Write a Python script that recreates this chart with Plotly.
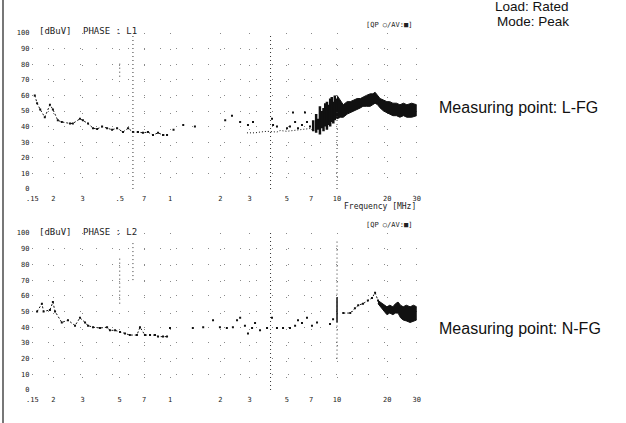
import plotly.graph_objects as go

# ---- frequency axis ticks (MHz) and level ticks (dBuV) ----
freq_ticks = [0.15, 0.2, 0.3, 0.5, 0.7, 1, 2, 3, 5, 7, 10, 20, 30]
freq_labels_l1 = [".15", "2", "3", ".5", "7", "1", "2", "3", "5", "7", "10", "20", "30"]
freq_labels_l2 = [".15", "2", "3", "5", "7", "1", "2", "3", "5", "7", "10", "20", "30"]
level_ticks = [0, 10, 20, 30, 40, 50, 60, 70, 80, 90, 100]

# ---- PHASE L1 (L-FG) ----
l1_low_f = [0.155, 0.16, 0.167, 0.178, 0.191, 0.199, 0.213, 0.225, 0.252, 0.262, 0.289, 0.301,
            0.323, 0.346, 0.366, 0.392, 0.42, 0.45, 0.482, 0.523, 0.561, 0.6, 0.643, 0.689,
            0.738, 0.791, 0.848, 0.908, 0.96]
l1_low_db = [60, 55, 51, 46, 54, 51, 44, 43, 42, 42, 45, 44, 42, 39, 38.5, 40, 39, 38, 39, 36.5,
             39, 36.5, 36.5, 36, 36.5, 34.6, 36, 34.6, 34.6]
l1_mid_f = [1.05, 1.2, 1.41, 2.14, 2.35, 2.63, 2.93, 3.14, 4.08, 4.14, 4.37, 5.02, 5.23, 5.45,
            5.61, 5.84, 6.17, 6.43, 6.61, 6.89, 7.18]
l1_mid_db = [38, 41, 40, 44, 47, 43, 41, 43, 45, 41, 40, 39, 40, 49, 43, 39, 41, 49, 43, 40, 39]
l1_floor_f = [2.89, 3.23, 3.46, 3.81, 4.37, 4.56, 5.0, 5.5, 6.0, 6.6, 7.2]
l1_floor_db = [36, 36, 36.5, 37, 36.5, 37.5, 37, 37.5, 38, 38.5, 39]
# 7-10 MHz: peak-hold spread per sweep step (low, high)
l1_spread_f = [7.2, 7.5, 7.7, 7.9, 8.1, 8.3, 8.5, 8.7, 8.9, 9.1, 9.3, 9.5, 9.7, 9.9]
l1_spread_lo = [37, 36, 38, 35, 39, 37, 40, 38, 41, 40, 43, 42, 44, 45]
l1_spread_hi = [44, 48, 45, 53, 50, 52, 55, 56, 54, 58, 59, 56, 60, 58]
l1_band_f = [10.0, 10.5, 10.9, 11.5, 12.0, 12.6, 13.2, 13.8, 14.3, 15.0, 15.8, 16.4, 16.9,
             17.5, 18.1, 19.0, 19.9, 20.7, 21.6, 22.7, 23.8, 25.0, 26.2, 28.0, 30]
l1_band_hi = [60, 57, 54, 56, 56, 57, 58, 58, 59, 60, 61, 61, 62, 60, 58, 57, 56, 56, 55, 55,
              54, 55, 54, 55, 54]
l1_band_lo = [45, 46, 46, 48, 49, 50, 51, 52, 53, 53, 53, 54, 55, 54, 52, 50, 49, 48, 47, 47,
              46, 47, 46, 46, 47]

# ---- PHASE L2 (N-FG) ----
l2_low_f = [0.16, 0.171, 0.175, 0.191, 0.199, 0.205, 0.225, 0.245, 0.27, 0.289, 0.31, 0.323,
            0.346, 0.381, 0.42, 0.437, 0.469, 0.502, 0.538, 0.575, 0.634, 0.661, 0.708, 0.759,
            0.813, 0.848, 0.908, 0.96]
l2_low_db = [50, 55, 50, 51, 56, 50, 43, 44.5, 41, 46, 43, 41, 40, 39.5, 40, 38, 38, 37, 36, 35,
             35, 40, 35, 35, 35, 34, 34, 34]
l2_mid_f = [1.0, 1.37, 1.58, 1.81, 1.99, 2.19, 2.38, 2.52, 2.63, 2.81, 2.93, 3.10, 3.23, 3.46,
            3.81, 4.08, 4.37, 4.75, 5.23, 5.61, 5.84, 6.17, 6.61, 7.08, 7.59, 9.08, 9.47]
l2_mid_db = [39.5, 39.5, 40, 44.5, 40, 39.5, 40, 44.5, 46, 41, 36, 39.5, 42.7, 38, 39.5, 46,
             39.5, 39.5, 39.5, 41, 44.5, 42.7, 46, 41, 43, 42, 45]
l2_rise_f = [10.9, 12.0, 12.8, 13.4, 14.3, 15.3, 16.2, 16.9, 17.6]
l2_rise_db = [49, 49, 52, 54, 55, 57, 58.6, 62, 57]
l2_spike_f = [10, 10]
l2_spike_db = [43, 59]
l2_band_f = [17.6, 18.1, 18.6, 19.2, 19.9, 20.7, 21.6, 22.4, 23.2, 24.0, 24.9, 26.0, 27.4,
             28.7, 30]
l2_band_hi = [57, 56, 55, 54, 53, 54, 53, 55, 56, 54, 53, 54, 53, 54, 53]
l2_band_lo = [55, 53, 52, 50, 48, 49, 48, 49, 49, 46, 44.6, 44, 43, 44, 44.6]

# dotted marker lines on the plots: (MHz, from dBuV, to dBuV)
l1_marker_lines = [(0.6, 0, 100), (4.0, 0, 100), (0.5, 72, 82), (10, 0, 50)]
l2_marker_lines = [(0.5, 55, 85), (0.6, 70, 95), (4.0, 0, 100), (10, 20, 95)]

W, H = 626, 423
INK = "#111111"
MONO = "DejaVu Sans Mono, monospace"
SANS = "Liberation Sans, Arial, sans-serif"

fig = go.Figure()


def add_panel(xa, ya, low_f, low_db, mid_f, mid_db, band_f, band_hi, band_lo):
    fig.add_trace(go.Scatter(x=low_f, y=low_db, xaxis=xa, yaxis=ya, mode="lines+markers",
                             line=dict(color=INK, width=1, dash="2px,2px"),
                             marker=dict(color=INK, size=2, symbol="square"),
                             showlegend=False, hoverinfo="skip"))
    fig.add_trace(go.Scatter(x=mid_f, y=mid_db, xaxis=xa, yaxis=ya, mode="markers",
                             marker=dict(color=INK, size=2, symbol="square"),
                             showlegend=False, hoverinfo="skip"))
    fig.add_trace(go.Scatter(x=band_f + band_f[::-1], y=band_hi + band_lo[::-1],
                             xaxis=xa, yaxis=ya, mode="lines", fill="toself",
                             fillcolor=INK, line=dict(color=INK, width=1),
                             showlegend=False, hoverinfo="skip"))


def add_spread(xa, ya, fs, lo, hi, width):
    xs, ys = [], []
    for f, a, b in zip(fs, lo, hi):
        xs += [f, f, None]
        ys += [a, b, None]
    fig.add_trace(go.Scatter(x=xs, y=ys, xaxis=xa, yaxis=ya, mode="lines",
                             line=dict(color=INK, width=width),
                             showlegend=False, hoverinfo="skip"))


add_panel("x", "y", l1_low_f, l1_low_db, l1_mid_f, l1_mid_db, l1_band_f, l1_band_hi, l1_band_lo)
add_spread("x", "y", l1_spread_f, l1_spread_lo, l1_spread_hi, 2.5)
fig.add_trace(go.Scatter(x=l1_floor_f, y=l1_floor_db, xaxis="x", yaxis="y", mode="lines",
                         line=dict(color=INK, width=1, dash="1px,2px"),
                         showlegend=False, hoverinfo="skip"))

add_panel("x2", "y2", l2_low_f, l2_low_db, l2_mid_f, l2_mid_db, l2_band_f, l2_band_hi, l2_band_lo)
fig.add_trace(go.Scatter(x=l2_rise_f, y=l2_rise_db, xaxis="x2", yaxis="y2", mode="lines+markers",
                         line=dict(color=INK, width=1, dash="2px,2px"),
                         marker=dict(color=INK, size=2, symbol="square"),
                         showlegend=False, hoverinfo="skip"))
add_spread("x2", "y2", l2_spike_f[:1], l2_spike_db[:1], l2_spike_db[1:], 1.5)

# pixel geometry of the two plotting areas
x_dom = [32.4 / W, 416.7 / W]
y1_dom = [1 - 189 / H, 1 - 33 / H]
y2_dom = [1 - 390 / H, 1 - 233 / H]

tick_font = dict(family=MONO, size=7, color="#222222")
grid = dict(showgrid=True, gridcolor="#8a8a8a", gridwidth=1, griddash="1px,15px",
            zeroline=False, showline=False, ticks="", automargin=False, fixedrange=True)

fig.update_layout(
    width=W, height=H,
    margin=dict(l=0, r=0, t=0, b=0),
    paper_bgcolor="white", plot_bgcolor="white",
    xaxis=dict(type="log", range=[-0.8239, 1.4771], domain=x_dom, anchor="y",
               tickvals=freq_ticks, ticktext=freq_labels_l1, tickfont=tick_font,
               ticklabelstandoff=4, **grid),
    yaxis=dict(range=[0, 100], domain=y1_dom, anchor="x",
               tickvals=level_ticks, tickfont=tick_font, ticklabelstandoff=2, **grid),
    xaxis2=dict(type="log", range=[-0.8239, 1.4771], domain=x_dom, anchor="y2",
                tickvals=freq_ticks, ticktext=freq_labels_l2, tickfont=tick_font,
                ticklabelstandoff=4, **grid),
    yaxis2=dict(range=[0, 100], domain=y2_dom, anchor="x2",
                tickvals=level_ticks, tickfont=tick_font, ticklabelstandoff=2, **grid),
)

shapes = [dict(type="line", xref="paper", yref="paper", x0=3 / W, x1=3 / W, y0=0, y1=1,
               line=dict(color="#777777", width=2))]
for xr, yr, lines in (("x", "y", l1_marker_lines), ("x2", "y2", l2_marker_lines)):
    for f, d0, d1 in lines:
        shapes.append(dict(type="line", xref=xr, yref=yr, x0=f, x1=f, y0=d0, y1=d1,
                           line=dict(color="#333333", width=1, dash="1px,3px")))
fig.update_layout(shapes=shapes)


def label(text, px, py, size, family=MONO, anchor="left", color="#222222"):
    fig.add_annotation(text=text, xref="paper", yref="paper", x=px / W, y=1 - py / H,
                       xanchor=anchor, yanchor="middle", showarrow=False,
                       font=dict(family=family, size=size, color=color))


label("[dBuV]", 37, 31, 9)
label("PHASE : L1", 81, 31, 9)
label("[QP ○/AV:■]", 364, 25, 7)
label("Frequency [MHz]", 342, 207, 8)
label("[dBuV]", 37, 232, 9)
label("PHASE : L2", 81, 232, 9)
label("[QP ○/AV:■]", 364, 225, 7)

label("Load: Rated", 571, 6, 13.5, SANS, "right", "#111111")
label("Mode: Peak", 571, 22, 13.5, SANS, "right", "#111111")
label("Measuring point: L-FG", 437, 107, 16, SANS, "left", "#111111")
label("Measuring point: N-FG", 437, 328, 16, SANS, "left", "#111111")

fig.write_html("out.html")
